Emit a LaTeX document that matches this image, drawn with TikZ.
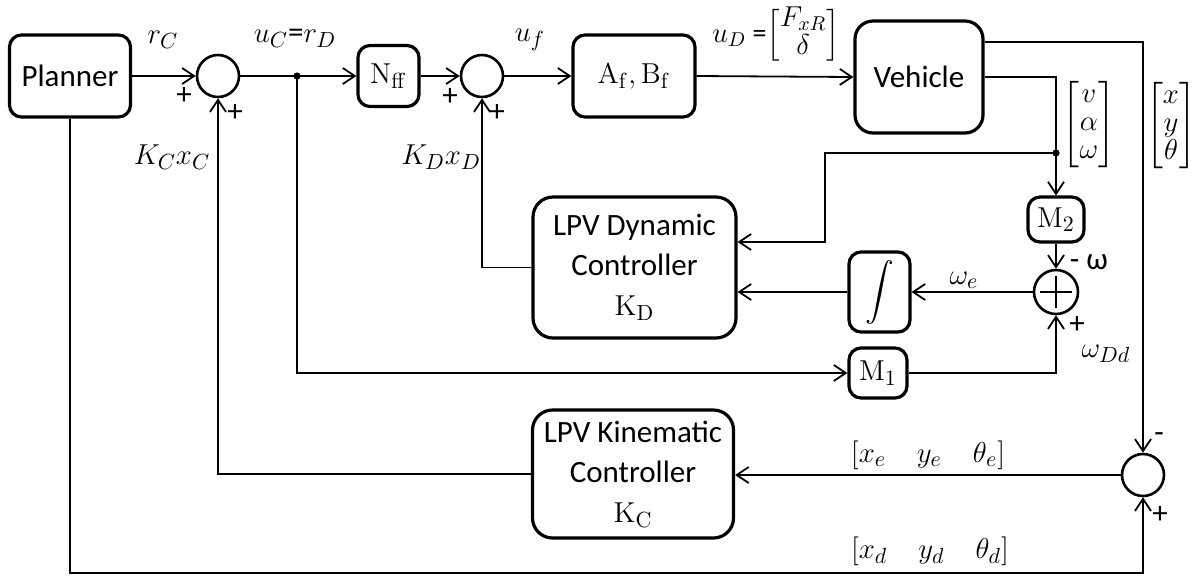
\documentclass[tikz,border=0pt]{standalone}
\usepackage{amsmath}
\usepackage[no-math]{fontspec}
\setmainfont{Carlito}
\usetikzlibrary{arrows.meta}

\begin{document}
\begin{tikzpicture}[x=0.5pt,y=-0.5pt,>={Straight Barb[length=6pt,width=8pt]},
    font=\fontsize{15.5}{20}\selectfont,
    blk/.style={draw,line width=1.6pt,rounded corners=6pt,align=center,inner sep=1pt},
    sumc/.style={draw,line width=1.3pt,circle,minimum size=21pt,inner sep=0pt},
    sig/.style={->,line width=0.9pt},
    lbl/.style={inner sep=0pt},
    vec/.style={inner sep=0pt,font=\fontsize{14}{15}\selectfont\renewcommand\arraystretch{0.92}}]
      \useasboundingbox (0,0) rectangle (1195,575);
      \node[blk,minimum width=60.5pt,minimum height=41pt] (planner) at (70,76) {Planner};
      \node[sumc] (sum1) at (218,76) {};
      \node[blk,minimum width=30.5pt,minimum height=30.5pt] (nff) at (388.5,76) {$\mathrm{N_{ff}}$};
      \node[sumc] (sum2) at (482,76) {};
      \node[blk,minimum width=61pt,minimum height=41pt] (afbf) at (634,76) {$\mathrm{A_f, B_f}$};
      \node[blk,rounded corners=9pt,minimum width=64pt,minimum height=56pt] (vehicle) at (919,77) {Vehicle};
      \node[blk,minimum width=28pt,minimum height=22.5pt] (m2) at (1056,219.5) {$\mathrm{M_2}$};
      \node[sumc,minimum size=22pt] (sumw) at (1056,292) {};
      \node[blk,minimum width=30.5pt,minimum height=40pt] (integ) at (879.5,292) {$\displaystyle\int$};
      \node[blk,minimum width=29pt,minimum height=25pt] (m1) at (878,373) {$\mathrm{M_1}$};
      \node[blk,rounded corners=10pt,minimum width=101.5pt,minimum height=70.5pt] (lpvd) at (634.5,267.5) {LPV Dynamic\\Controller\\$\mathrm{K_D}$};
      \node[blk,rounded corners=10pt,minimum width=100.5pt,minimum height=64pt] (lpvk) at (633,474) {LPV Kinematic\\Controller\\$\mathrm{K_C}$};
      \node[sumc] (sum3) at (1143,475) {};
      \draw[line width=1.3pt] ([xshift=-8pt]sumw.center) -- ([xshift=8pt]sumw.center)
        ([yshift=-8pt]sumw.center) -- ([yshift=8pt]sumw.center);
      \coordinate (jc) at (297,76);
      \coordinate (jv) at (1056,153);
      \coordinate (jvk) at (825,242);
      \coordinate (bot) at (1143,573);
      \draw[sig] (planner.east) -- (sum1.west);
      \draw[sig] (sum1.east) -- (nff.west);
      \draw[sig] (nff.east) -- (sum2.west);
      \draw[sig] (sum2.east) -- (afbf.west);
      \draw[sig] (afbf.east) -- (vehicle.west);
      \draw[sig] ([yshift=17.5pt]vehicle.east) -| (sum3.north);
      \draw[sig] (vehicle.east) -| (m2.north);
      \fill (jc) circle (1.8pt);
      \fill (jv) circle (1.8pt);
      \draw[sig] (jv) -| (jvk) -- (lpvd.east |- jvk);
      \draw[sig] (m2.south) -- (sumw.north);
      \draw[sig] (sumw.west) -- (integ.east);
      \draw[sig] (integ.west) -- (lpvd.east |- integ);
      \draw[sig] (lpvd.west) -| (sum2.south);
      \draw[sig] (jc) |- (m1.west);
      \draw[sig] (m1.east) -| (sumw.south);
      \draw[sig] (sum3.west) -- (lpvk.east |- sum3);
      \draw[sig] (lpvk.west) -| (sum1.south);
      \draw[sig] (planner.south) |- (bot) -- (sum3.south);
      \node[lbl] (lrc) at (163,40) {$r_C$};
      \node[lbl] (luc) at (295,38) {$u_C$=$r_D$};
      \node[lbl] (luf) at (530,40) {$u_f$};
      \node[vec,font=\fontsize{14}{14}\selectfont] (lud) at (776,35) {$u_D$ =$\begin{bmatrix}F_{xR}\\ \delta\end{bmatrix}$};
      \node[lbl] (p1a) at (184,96) {+};
      \node[lbl] (p1b) at (235,113) {+};
      \node[lbl] (p2a) at (450,97) {+};
      \node[lbl] (p2b) at (497,113) {+};
      \node[lbl] (lkc) at (172,157) {$K_C x_C$};
      \node[lbl] (lkd) at (441,157) {$K_D x_D$};
      \node[vec] (lvel) at (1089,125) {$\begin{bmatrix}v\\ \alpha\\ \omega\end{bmatrix}$};
      \node[vec] (lpos) at (1171,126) {$\begin{bmatrix}x\\ y\\ \theta\end{bmatrix}$};
      \node[lbl] (lmw) at (1089,262) {- ω};
      \node[lbl] (lwe) at (964,280) {$\omega_e$};
      \node[lbl] (pw) at (1077,325) {+};
      \node[lbl] (lwdd) at (1106,354) {$\omega_{Dd}$};
      \node[lbl] (m3) at (1159,438) {-};
      \node[lbl] (p3) at (1160,515) {+};
      \node[lbl] (lerr) at (928,455) {$[x_e\quad y_e\quad \theta_e]$};
      \node[lbl] (ldes) at (930,551) {$[x_d\quad y_d\quad \theta_d]$};
    \end{tikzpicture}
\end{document}
